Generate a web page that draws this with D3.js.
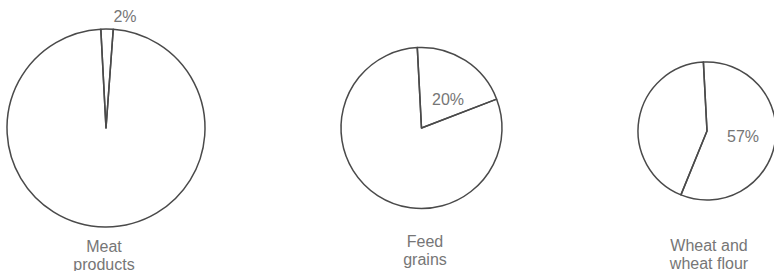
<!DOCTYPE html>
<html>
<head>
<meta charset="utf-8">
<script src="https://cdn.jsdelivr.net/npm/d3@7"></script>
<style>
  body { margin: 0; background: #fff; }
  text { font-family: "Liberation Sans", Arial, sans-serif; fill: #767676; font-size: 16px; }
</style>
</head>
<body>
<svg id="pies" width="774" height="271"></svg>
<script>
// share of each commodity (percent)
const categories = ["Meat products", "Feed grains", "Wheat and wheat flour"];
const shares = [2, 20, 57];
const pctLabels = ["2%", "20%", "57%"];
const captionLines = [["Meat", "products"], ["Feed", "grains"], ["Wheat and", "wheat flour"]];

// layout for each pie
const pieCenters = [[106, 128], [421.5, 128], [707, 131]];
const pieRadii = [99, 80.5, 69];
const pctPos = [[125, 22], [448, 105], [743, 142]];
const captionX = [104, 425, 709];
const captionY = [252, 247, 251];
const lineGap = 18;
const startDeg = -3;

const svg = d3.select("svg#pies");
const strokeColor = "#4a4a4a";

categories.forEach((cat, i) => {
    const g = svg.append("g")
        .attr("transform", `translate(${pieCenters[i][0]}, ${pieCenters[i][1]})`);

    const pie = d3.pie()
        .sort(null)
        .startAngle(startDeg * Math.PI / 180)
        .endAngle((startDeg + 360) * Math.PI / 180);
    const arcs = pie([shares[i], 100 - shares[i]]);
    const arc = d3.arc().innerRadius(0).outerRadius(pieRadii[i]);

    g.selectAll("path")
        .data(arcs)
        .join("path")
        .attr("d", arc)
        .attr("fill", "none")
        .attr("stroke", strokeColor)
        .attr("stroke-width", 1.5)
        .attr("stroke-linejoin", "round");

    svg.append("text")
        .text(pctLabels[i])
        .attr("x", pctPos[i][0])
        .attr("y", pctPos[i][1])
        .attr("text-anchor", "middle");

    captionLines[i].forEach((line, j) => {
        svg.append("text")
            .text(line)
            .attr("x", captionX[i])
            .attr("y", captionY[i] + j * lineGap)
            .attr("text-anchor", "middle");
    });
});
</script>
</body>
</html>
